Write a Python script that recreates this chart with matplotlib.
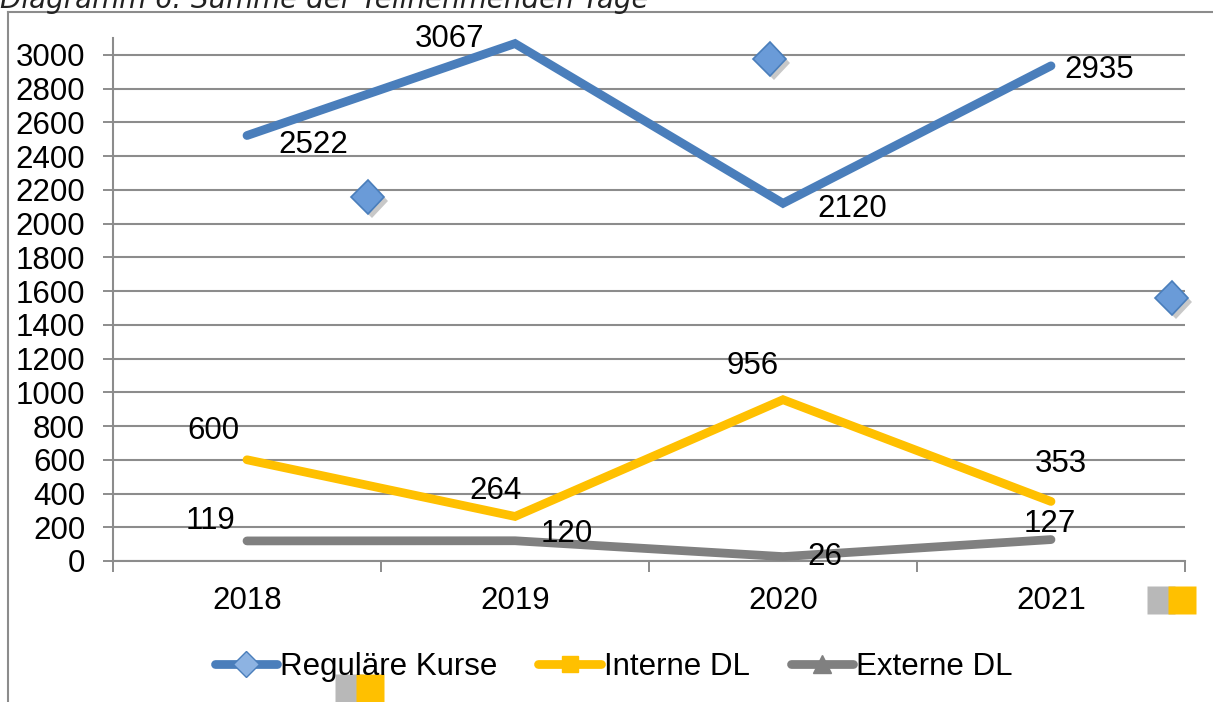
import matplotlib
matplotlib.use("Agg")
import matplotlib.pyplot as plt
import matplotlib.patheffects as pe
from matplotlib.lines import Line2D

plt.rcParams["font.family"] = ["Liberation Sans", "DejaVu Sans"]

TITLE = "Diagramm 6: Summe der Teilnehmenden Tage"
YEARS = ["2018", "2019", "2020", "2021"]
SERIES = ["Reguläre Kurse", "Interne DL", "Externe DL"]
REGULAR = [2522, 3067, 2120, 2935]
INTERN = [600, 264, 956, 353]
EXTERN = [119, 120, 26, 127]
Y_TICKS = list(range(0, 3001, 200))

# stray marker ghosts that show up in the source rendering
GHOST_DIAMOND_X = [0.45, 1.95, 3.45]
GHOST_DIAMOND_Y = [2158, 2976, 1559]
GHOST_SQUARE_X = [3.49, 0.46]
GHOST_SQUARE_Y = [-231, -753]

BLUE, YELLOW, GREY = "#4A7EBB", "#FFC000", "#808080"
GRID = "#8C8C8C"
FS = 22.5
LW = 6.3

W, H = 1213, 702
fig = plt.figure(figsize=(W / 100, H / 100), dpi=100)
ax = fig.add_axes([113 / W, 1 - 561 / H, (1185 - 113) / W, (561 - 38) / H])

x = list(range(len(YEARS)))
series_vals = [REGULAR, INTERN, EXTERN]
colors = [BLUE, YELLOW, GREY]
for vals, c in zip(series_vals, colors):
    ax.plot(x, vals, color=c, lw=LW, solid_capstyle="round",
            solid_joinstyle="miter", zorder=3)

# data labels, offsets in points (label centre relative to point)
offsets = [
    [(48, -7), (-47, 3), (50, -4), (35, -3)],
    [(-24, 21), (-14, 18), (-22, 24), (7, 27)],
    [(-26, 14), (37, 5), (30, 0), (-1, 11)],
]
for vals, offs in zip(series_vals, offsets):
    for xi, v, (dx, dy) in zip(x, vals, offs):
        ax.annotate(str(v), (xi, v), xytext=(dx, dy), textcoords="offset points",
                    ha="center", va="center", fontsize=FS, zorder=5,
                    annotation_clip=False)

shadow = [pe.SimplePatchShadow(offset=(3, -3), shadow_rgbFace="#777777", alpha=0.4),
          pe.Normal()]
ax.plot(GHOST_DIAMOND_X, GHOST_DIAMOND_Y, ls="none", marker="D", ms=17,
        mfc="#6A9BD8", mec="#4A7EBB", mew=1.2, clip_on=False, zorder=6,
        path_effects=shadow)
ax.plot([gx - 0.08 for gx in GHOST_SQUARE_X], GHOST_SQUARE_Y, ls="none", marker="s",
        ms=20, mfc="#A6A6A6", mec="none", alpha=0.8, clip_on=False, zorder=6)
ax.plot(GHOST_SQUARE_X, GHOST_SQUARE_Y, ls="none", marker="s", ms=20,
        mfc=YELLOW, mec="none", clip_on=False, zorder=7)

ax.set_xlim(-0.5, len(YEARS) - 0.5)
ax.set_ylim(0, 3100)
ax.set_yticks(Y_TICKS)
ax.set_xticks(x, YEARS)
ax.set_xticks([i - 0.5 for i in range(len(YEARS) + 1)], minor=True)
ax.tick_params(axis="x", which="major", length=0, pad=18, labelsize=FS)
ax.tick_params(axis="x", which="minor", length=8, width=1.4, color=GRID, direction="out")
ax.tick_params(axis="y", length=7, width=1.4, color=GRID, pad=13, labelsize=FS)
ax.yaxis.grid(True, color=GRID, lw=1.5)
ax.set_axisbelow(True)
for s in ("top", "right"):
    ax.spines[s].set_visible(False)
for s in ("left", "bottom"):
    ax.spines[s].set_color(GRID)
    ax.spines[s].set_linewidth(1.5)

handles = [
    Line2D([], [], color=BLUE, lw=LW, solid_capstyle="round", marker="D", ms=13,
           mfc="#8DB3E2", mec="#4A7EBB"),
    Line2D([], [], color=YELLOW, lw=LW, solid_capstyle="round", marker="s", ms=12,
           mfc=YELLOW, mec=YELLOW),
    Line2D([], [], color=GREY, lw=LW, solid_capstyle="round", marker="^", ms=13,
           mfc=GREY, mec=GREY),
]
fig.legend(handles, SERIES, loc="center", bbox_to_anchor=(0.506, 1 - 667 / H),
           ncol=3, frameon=False, fontsize=FS, handlelength=2.0, handletextpad=0.1,
           columnspacing=1.3)

fig.text(0.0, 1 - 8 / H, TITLE, family="DejaVu Sans", style="italic", fontsize=20,
         va="baseline", ha="left", color="#222222")

# outer chart frame
fig.add_artist(Line2D([8 / W, 8 / W], [0, 1 - 12 / H], color=GRID, lw=1.5))
fig.add_artist(Line2D([8 / W, 1], [1 - 12 / H, 1 - 12 / H], color=GRID, lw=1.5))

fig.savefig("out.png", dpi=100)
